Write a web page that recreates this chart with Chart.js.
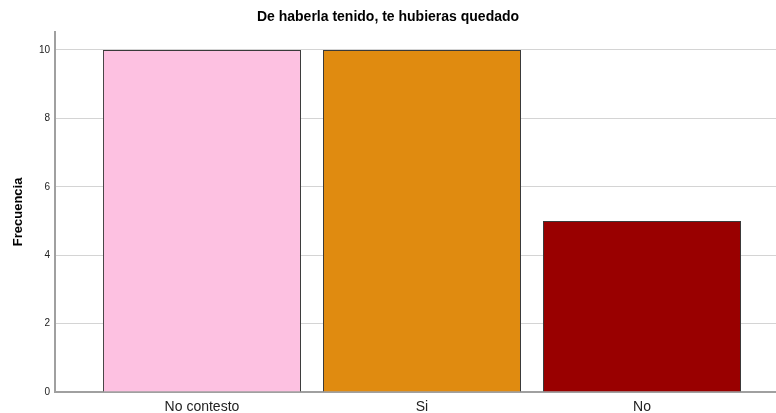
<!DOCTYPE html>
<html>
<head>
<meta charset="utf-8">
<script src="https://cdn.jsdelivr.net/npm/chart.js@4"></script>
<style>
  html, body { margin: 0; padding: 0; background: #fff; }
  #wrap { width: 776px; height: 413px; }
</style>
</head>
<body>
<div id="wrap"><canvas id="mychart"></canvas></div>
<script>
// datos
const categorias = ["No contesto", "Si", "No"]
const frecuencias = [10, 10, 5]
const colores = ["#fdc1e1", "#e08b10", "#990000"]
const ticksY = [0, 2, 4, 6, 8, 10]

const ctx = document.getElementById('mychart').getContext("2d");

new Chart(ctx, {
    type: 'bar',
    data: {
        datasets: [{
            data: frecuencias.map((v, i) => ({ x: i, y: v })),
            backgroundColor: colores,
            borderColor: '#3a3a3a',
            borderWidth: 1,
            barPercentage: 0.9,
            categoryPercentage: 1
        }]
    },
    options: {
        responsive: true,
        maintainAspectRatio: false,
        animation: false,
        devicePixelRatio: 1,
        layout: { padding: 0 },
        plugins: {
            legend: { display: false },
            tooltip: { enabled: false },
            title: {
                display: true,
                text: 'De haberla tenido, te hubieras quedado',
                color: '#000000',
                font: { family: 'Liberation Sans', size: 14, weight: 'bold' },
                padding: { top: 9, bottom: 6 }
            }
        },
        scales: {
            x: {
                type: 'linear',
                offset: false,
                min: -0.668,
                max: 2.609,
                grid: { display: false, drawTicks: false, offset: false },
                border: { color: '#a0a0a0', width: 2 },
                afterBuildTicks: (scale) => {
                    scale.ticks = categorias.map((c, i) => ({ value: i }))
                },
                afterFit: (scale) => { scale.height = 21 },
                ticks: {
                    autoSkip: false,
                    maxRotation: 0,
                    padding: 7,
                    color: '#222',
                    font: { family: 'Liberation Sans', size: 14 },
                    callback: (v) => categorias[v]
                }
            },
            y: {
                min: 0,
                max: 10.53,
                afterBuildTicks: (scale) => {
                    scale.ticks = ticksY.map((v) => ({ value: v }))
                },
                afterFit: (scale) => { scale.width = 55 },
                grid: { color: '#d4d4d4', lineWidth: 1, drawTicks: false },
                border: { color: '#a0a0a0', width: 2 },
                ticks: {
                    padding: 5,
                    color: '#222',
                    font: { family: 'Liberation Sans', size: 10 }
                },
                title: {
                    display: true,
                    text: 'Frecuencia',
                    color: '#000',
                    font: { family: 'Liberation Sans', size: 13, weight: 'bold' },
                    padding: { top: 11, bottom: 0 }
                }
            }
        }
    }
});
</script>
</body>
</html>
